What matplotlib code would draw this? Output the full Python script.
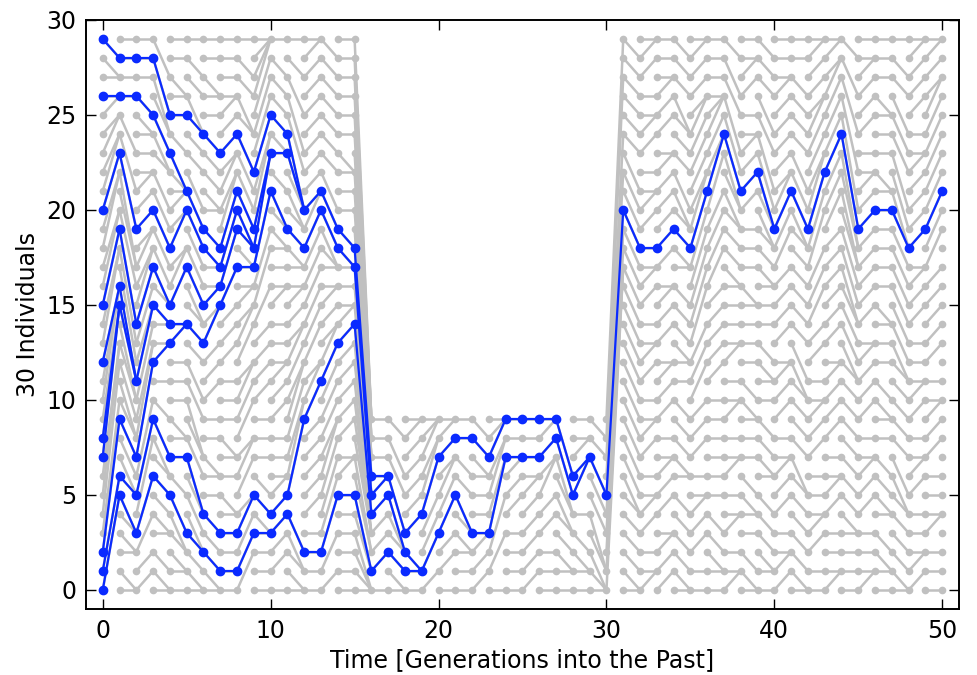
import numpy as np
import matplotlib
matplotlib.use('Agg')
import matplotlib.pyplot as plt
from matplotlib.collections import LineCollection

# Tamano de la poblacion en cada generacion (0 = presente)
pop_size = [30] * 16 + [10] * 15 + [30] * 20

# Individuos muestreados en el presente
sampled = [0, 1, 2, 7, 8, 12, 15, 20, 26, 29]

# Padre (en la generacion t+1) de cada individuo de la generacion t
parents_early = [
    [5, 6, 9, 10, 12, 13, 13, 15, 15, 15, 16, 16, 16, 18, 18, 19, 20, 20, 22, 22, 23, 24, 24, 25, 25, 26, 26, 27, 27, 28],
    [0, 0, 2, 2, 3, 3, 5, 5, 6, 7, 8, 8, 9, 10, 10, 11, 11, 12, 13, 14, 16, 17, 17, 19, 21, 23, 26, 27, 28, 29],
    [1, 2, 4, 6, 8, 9, 10, 12, 13, 13, 14, 15, 15, 16, 17, 18, 18, 19, 19, 20, 21, 22, 22, 23, 24, 24, 25, 27, 28, 29],
    [0, 0, 1, 3, 3, 4, 5, 6, 6, 7, 9, 11, 13, 13, 14, 14, 15, 15, 16, 17, 18, 19, 20, 22, 22, 23, 24, 24, 25, 27],
    [0, 1, 1, 2, 2, 3, 5, 7, 8, 8, 10, 11, 12, 14, 14, 17, 18, 18, 20, 20, 21, 21, 21, 21, 23, 25, 26, 26, 28, 29],
    [0, 0, 1, 2, 2, 3, 4, 4, 6, 7, 7, 9, 10, 12, 13, 14, 14, 15, 16, 17, 18, 19, 20, 22, 23, 24, 24, 26, 27, 29],
    [0, 0, 1, 2, 3, 5, 6, 6, 8, 9, 11, 12, 13, 15, 15, 16, 16, 17, 17, 18, 20, 20, 21, 22, 23, 25, 26, 26, 28, 29],
    [0, 1, 2, 3, 4, 4, 6, 7, 7, 9, 10, 11, 13, 14, 15, 17, 19, 20, 21, 22, 22, 23, 23, 24, 25, 26, 26, 27, 28, 29],
    [2, 3, 4, 5, 5, 7, 8, 8, 10, 11, 12, 12, 14, 15, 15, 16, 16, 17, 17, 18, 18, 19, 20, 21, 22, 24, 24, 26, 27, 29],
    [0, 1, 2, 3, 3, 4, 5, 7, 8, 9, 11, 12, 13, 14, 16, 18, 19, 21, 23, 23, 24, 24, 25, 26, 27, 28, 29, 29, 29, 29],
    [0, 2, 3, 4, 5, 6, 6, 7, 8, 10, 11, 12, 12, 13, 14, 16, 16, 17, 18, 18, 19, 19, 21, 23, 23, 24, 25, 26, 27, 29],
    [0, 0, 1, 1, 2, 9, 10, 10, 11, 12, 12, 13, 14, 14, 15, 16, 16, 17, 17, 18, 19, 19, 20, 20, 20, 22, 23, 25, 27, 29],
    [0, 1, 2, 3, 5, 6, 7, 8, 9, 11, 12, 12, 14, 15, 16, 17, 18, 19, 20, 21, 21, 22, 23, 24, 25, 26, 27, 28, 29, 29],
    [1, 3, 5, 6, 7, 8, 9, 9, 10, 11, 12, 13, 14, 14, 15, 16, 16, 17, 17, 17, 18, 19, 20, 22, 23, 24, 25, 26, 27, 28],
    [0, 1, 2, 3, 4, 5, 7, 7, 9, 10, 11, 12, 13, 14, 15, 15, 16, 17, 17, 18, 20, 21, 22, 22, 24, 25, 26, 27, 28, 29],
    [0, 0, 0, 0, 1, 1, 2, 2, 3, 3, 3, 3, 4, 4, 4, 5, 5, 5, 6, 6, 7, 7, 7, 8, 8, 8, 9, 9, 9, 9],
]

parents_bottleneck = [
    [0, 2, 3, 4, 5, 6, 6, 7, 8, 9],
    [0, 0, 1, 2, 2, 2, 3, 5, 6, 8],
    [0, 1, 1, 4, 5, 6, 7, 8, 9, 9],
    [1, 3, 4, 5, 7, 8, 8, 9, 9, 9],
    [0, 2, 3, 5, 6, 7, 7, 8, 9, 9],
    [0, 1, 2, 2, 3, 3, 5, 6, 8, 9],
    [1, 2, 3, 3, 4, 5, 6, 6, 7, 8],
    [0, 3, 5, 7, 7, 8, 8, 9, 9, 9],
    [0, 1, 2, 3, 5, 6, 7, 7, 8, 9],
    [1, 2, 3, 4, 5, 6, 6, 7, 8, 9],
    [0, 1, 2, 4, 5, 7, 7, 8, 9, 9],
    [0, 1, 1, 2, 3, 3, 4, 4, 5, 6],
    [0, 1, 1, 2, 4, 7, 7, 8, 8, 9],
    [0, 0, 0, 1, 1, 3, 4, 5, 7, 8],
    [17, 17, 18, 19, 19, 20, 22, 24, 27, 29],
]

parents_late = [
    [0, 0, 1, 2, 3, 4, 4, 5, 6, 7, 8, 9, 10, 11, 12, 13, 14, 15, 16, 17, 18, 19, 20, 21, 23, 24, 25, 26, 27, 28],
    [1, 1, 2, 4, 5, 5, 6, 8, 9, 9, 10, 12, 13, 13, 14, 16, 17, 17, 18, 20, 21, 21, 22, 24, 25, 25, 26, 28, 29, 29],
    [1, 2, 3, 3, 5, 6, 7, 7, 8, 10, 11, 12, 12, 14, 15, 16, 16, 18, 19, 20, 21, 22, 23, 23, 25, 26, 27, 27, 28, 29],
    [0, 0, 1, 2, 3, 4, 6, 6, 7, 8, 9, 11, 12, 12, 13, 14, 15, 17, 17, 18, 19, 19, 20, 22, 23, 24, 24, 26, 27, 28],
    [0, 1, 3, 4, 5, 5, 6, 8, 9, 10, 12, 13, 14, 16, 17, 18, 19, 20, 21, 22, 22, 23, 24, 25, 26, 26, 27, 28, 29, 29],
    [0, 1, 1, 2, 3, 5, 6, 7, 8, 9, 10, 12, 13, 14, 15, 16, 18, 19, 20, 21, 23, 24, 24, 25, 26, 26, 26, 27, 28, 29],
    [1, 1, 2, 4, 4, 5, 7, 7, 8, 10, 10, 11, 13, 13, 14, 15, 16, 16, 17, 18, 19, 19, 20, 20, 21, 22, 23, 25, 26, 28],
    [0, 0, 1, 3, 4, 4, 5, 7, 8, 9, 9, 10, 12, 13, 14, 15, 15, 17, 18, 19, 21, 22, 23, 24, 24, 25, 27, 28, 28, 29],
    [0, 1, 1, 2, 3, 4, 6, 6, 7, 8, 10, 11, 11, 12, 14, 15, 16, 16, 17, 18, 18, 19, 19, 20, 21, 23, 24, 26, 27, 28],
    [1, 2, 2, 3, 5, 6, 7, 7, 8, 10, 11, 12, 12, 14, 15, 16, 17, 19, 20, 21, 22, 22, 23, 24, 25, 26, 27, 27, 28, 29],
    [0, 0, 1, 2, 3, 4, 5, 5, 7, 8, 9, 10, 10, 11, 13, 14, 15, 16, 17, 18, 18, 19, 20, 21, 23, 24, 25, 26, 28, 29],
    [0, 1, 3, 4, 4, 5, 6, 8, 9, 10, 10, 11, 13, 14, 16, 17, 18, 20, 21, 22, 23, 23, 24, 25, 26, 26, 27, 28, 29, 29],
    [1, 1, 2, 3, 5, 6, 6, 7, 9, 10, 11, 12, 12, 14, 15, 16, 17, 18, 19, 21, 22, 23, 24, 25, 26, 27, 28, 28, 29, 29],
    [0, 1, 2, 3, 3, 4, 5, 6, 7, 8, 9, 10, 11, 11, 12, 13, 14, 14, 15, 16, 17, 17, 18, 18, 19, 20, 22, 24, 26, 28],
    [1, 1, 2, 3, 5, 6, 7, 7, 8, 10, 11, 12, 13, 13, 15, 16, 17, 18, 19, 20, 21, 22, 22, 23, 25, 26, 27, 28, 28, 29],
    [0, 1, 1, 2, 4, 4, 5, 6, 8, 9, 9, 10, 12, 13, 14, 14, 16, 17, 18, 19, 20, 21, 21, 23, 24, 25, 25, 27, 28, 29],
    [0, 0, 1, 2, 3, 4, 4, 5, 7, 8, 9, 10, 11, 11, 12, 13, 14, 15, 16, 17, 18, 18, 19, 20, 22, 23, 24, 26, 27, 29],
    [1, 2, 2, 3, 4, 6, 7, 7, 8, 10, 11, 11, 12, 13, 15, 16, 17, 17, 19, 20, 21, 22, 23, 23, 24, 26, 27, 28, 29, 29],
    [0, 1, 2, 4, 4, 5, 6, 8, 9, 10, 10, 11, 13, 14, 15, 16, 17, 19, 20, 21, 22, 23, 24, 25, 26, 27, 27, 28, 29, 29],
]

parents = parents_early + parents_bottleneck + parents_late

gray = '#c0c0c0'
blue = '#0a2aff'

fig = plt.figure(figsize=(9.78, 6.75), dpi=100)
ax = fig.add_axes([0.0879, 0.0978, 0.8927, 0.8726])

# lineas grises (todas las relaciones padre-hijo)
segs = []
for t, par in enumerate(parents):
    for i, p in enumerate(par):
        segs.append([(t, i), (t + 1, p)])
ax.add_collection(LineCollection(segs, colors=gray, linewidths=1.8, zorder=1))

# puntos grises
for t, n in enumerate(pop_size):
    ax.plot([t] * n, range(n), 'o', color=gray, ms=4.5, mec=gray, zorder=2)

# linajes de los individuos muestreados
current = sorted(set(sampled))
blue_segs = []
blue_pts = [(0, i) for i in current]
for t, par in enumerate(parents):
    nxt = set()
    for i in current:
        blue_segs.append([(t, i), (t + 1, par[i])])
        nxt.add(par[i])
    current = sorted(nxt)
    blue_pts += [(t + 1, i) for i in current]
ax.add_collection(LineCollection(blue_segs, colors=blue, linewidths=1.6, zorder=3))
bx, by = zip(*blue_pts)
ax.plot(bx, by, 'o', color=blue, ms=6, mec=blue, zorder=4)

ax.set_xlim(-1, 51)
ax.set_ylim(-1, 30)
ax.set_xticks([0, 10, 20, 30, 40, 50])
ax.set_yticks([0, 5, 10, 15, 20, 25, 30])
ax.tick_params(direction='in', top=True, right=True, length=7, width=1,
               labelsize=17, pad=7)
for s in ax.spines.values():
    s.set_linewidth(1.4)
ax.set_xlabel('Time [Generations into the Past]', fontsize=17)
ax.set_ylabel('30 Individuals', fontsize=17)

fig.savefig('out.png', dpi=100)
